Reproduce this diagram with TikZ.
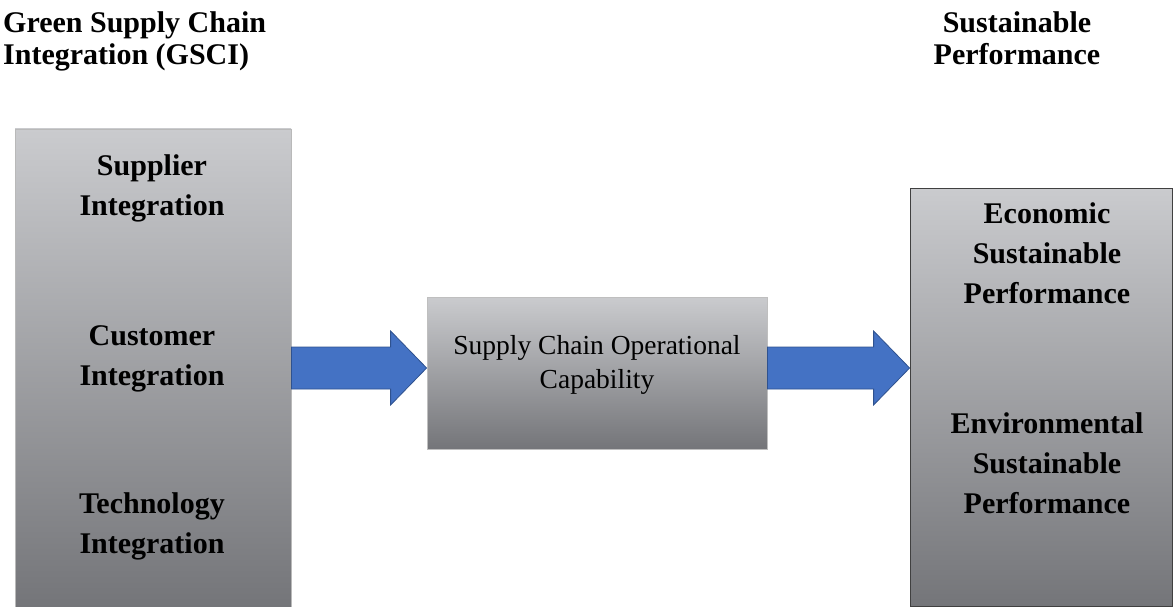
\documentclass[tikz,border=0pt]{standalone}
\usepackage{fontspec}
\setmainfont{Liberation Serif}
\usetikzlibrary{calc}

\definecolor{boxtop}{RGB}{202,203,206}
\definecolor{boxbot}{RGB}{116,117,121}
\definecolor{arrowfill}{RGB}{68,114,196}
\definecolor{arrowline}{RGB}{47,82,143}

% fat block arrow from #1 to the x of #2, at the height of #1
\newcommand{\fatarrow}[2]{%
  \draw[blockarrow] let \p1=(#1), \p2=(#2) in
    (\x1,\y1+21pt) -- (\x2-36pt,\y1+21pt) -- (\x2-36pt,\y1+37pt) -- (\x2,\y1)
    -- (\x2-36pt,\y1-37pt) -- (\x2-36pt,\y1-21pt) -- (\x1,\y1-21pt) -- cycle;}

\begin{document}
\begin{tikzpicture}[x=1pt,y=-1pt]
  \tikzset{panel/.style={draw=#1,line width=0.8pt,top color=boxtop,bottom color=boxbot,inner sep=0pt},
           factor/.style={font=\fontsize{30}{40}\selectfont\bfseries,align=center},
           heading/.style={font=\fontsize{30}{32}\selectfont\bfseries,inner sep=0pt},
           blockarrow/.style={fill=arrowfill,draw=arrowline,line width=0.8pt,line join=miter}}
  \useasboundingbox (0,0) rectangle (1173,607);

  % headings
  \node[heading,anchor=west,align=left] (gscihead) at (3,41) {Green Supply Chain\\Integration (GSCI)};
  \node[heading,align=center] (perfhead) at (1017,38) {Sustainable\\Performance};

  % boxes
  \node[panel=gray!55,minimum width=276pt,minimum height=478pt] (gsci) at (153,368) {};
  \node[panel=gray!50,minimum width=340pt,minimum height=152pt] (soc) at (597,373) {};
  \node[panel=black!75,minimum width=262pt,minimum height=418pt] (perf) at (1041,397) {};

  \node[factor] (supp) at (152,188) {Supplier\\Integration};
  \node[factor] (cust) at (152,359) {Customer\\Integration};
  \node[factor] (tech) at (152,526) {Technology\\Integration};

  \node[font=\fontsize{27.5}{34}\selectfont,align=center] (soctext) at (597,365) {Supply Chain Operational\\Capability};

  \node[factor] (econ) at (1047,253) {Economic\\Sustainable\\Performance};
  \node[factor] (envi) at (1047,463) {Environmental\\Sustainable\\Performance};

  % arrows
  \fatarrow{gsci.east}{soc.west}
  \fatarrow{soc.east |- gsci.east}{perf.west}
  %\draw[->] (soc) -- (perf);
\end{tikzpicture}
\end{document}
